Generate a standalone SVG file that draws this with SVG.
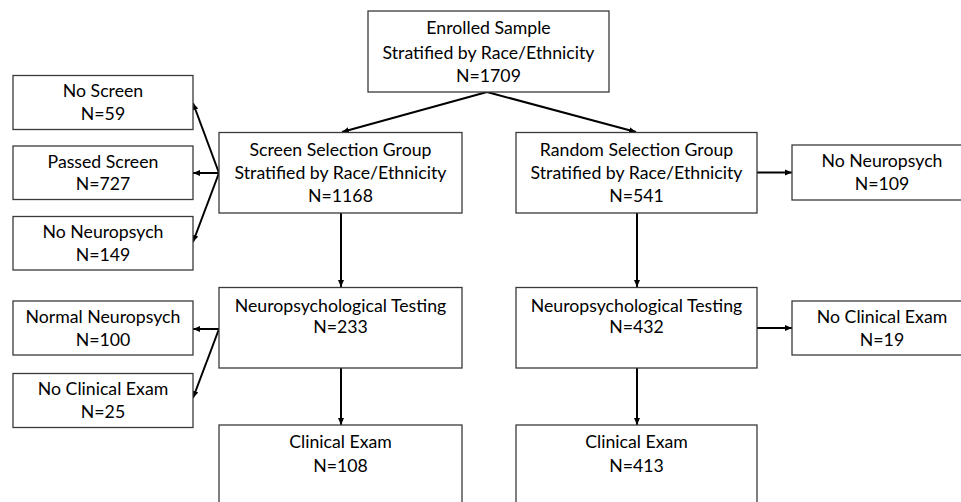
<svg xmlns="http://www.w3.org/2000/svg" width="961" height="502" viewBox="0 0 961 502">
<defs>
<style>
.box{fill:#fff;stroke:#3a3a3a;stroke-width:1.3}
.t{font-family:"Lato","Liberation Sans",sans-serif;font-size:17.7px;fill:#000;text-anchor:middle}
.c{stroke:#000;stroke-width:2;fill:none;marker-end:url(#ah)}
</style>
<marker id="ah" markerUnits="userSpaceOnUse" markerWidth="8" markerHeight="8" viewBox="0 0 8 8" refX="7" refY="4" orient="auto">
<path d="M0,1 L7,4 L0,7 Z" fill="#000"/>
</marker>
</defs>
<rect width="961" height="502" fill="#fff"/>
<g id="connectors">
<line class="c" x1="487" y1="92" x2="342" y2="132"/>
<line class="c" x1="487" y1="92" x2="636" y2="132"/>
<line class="c" x1="219" y1="173" x2="193" y2="103"/>
<line class="c" x1="219" y1="173" x2="193" y2="173"/>
<line class="c" x1="219" y1="173" x2="193" y2="242"/>
<line class="c" x1="757" y1="172.5" x2="792" y2="172.5"/>
<line class="c" x1="341" y1="213" x2="341" y2="287"/>
<line class="c" x1="637" y1="213" x2="637" y2="287"/>
<line class="c" x1="219" y1="329" x2="193" y2="329"/>
<line class="c" x1="219" y1="329" x2="193" y2="398"/>
<line class="c" x1="757" y1="328" x2="792" y2="328"/>
<line class="c" x1="341" y1="368" x2="341" y2="425"/>
<line class="c" x1="637" y1="368" x2="637" y2="425"/>
</g>
<g id="enrolled"><rect class="box" x="368" y="11" width="241" height="81"/>
<text class="t" x="488.5" y="34.3">Enrolled Sample</text>
<text class="t" x="488.5" y="59.3">Stratified by Race/Ethnicity</text>
<text class="t" x="488.5" y="81.5">N=1709</text></g>
<g id="screen"><rect class="box" x="219" y="132.5" width="243" height="80.5"/>
<text class="t" x="340.5" y="155.7">Screen Selection Group</text>
<text class="t" x="340.5" y="179.3">Stratified by Race/Ethnicity</text>
<text class="t" x="340.5" y="201.7">N=1168</text></g>
<g id="random"><rect class="box" x="516" y="132.5" width="241" height="80.5"/>
<text class="t" x="636.5" y="155.7">Random Selection Group</text>
<text class="t" x="636.5" y="179.3">Stratified by Race/Ethnicity</text>
<text class="t" x="636.5" y="201.7">N=541</text></g>
<g id="noscreen"><rect class="box" x="13" y="75.5" width="180" height="54"/>
<text class="t" x="103" y="97.3">No Screen</text>
<text class="t" x="103" y="120">N=59</text></g>
<g id="passed"><rect class="box" x="13" y="146" width="180" height="53.5"/>
<text class="t" x="103" y="167.7">Passed Screen</text>
<text class="t" x="103" y="190">N=727</text></g>
<g id="noneuro-left"><rect class="box" x="13" y="216.5" width="180" height="53.5"/>
<text class="t" x="103" y="238.3">No Neuropsych</text>
<text class="t" x="103" y="260.7">N=149</text></g>
<g id="noneuro-right"><rect class="box" x="792" y="145" width="180" height="55"/>
<text class="t" x="882" y="166.7">No Neuropsych</text>
<text class="t" x="882" y="190">N=109</text></g>
<g id="neuro-left"><rect class="box" x="219" y="287.5" width="243" height="80.5"/>
<text class="t" x="340.5" y="311.7">Neuropsychological Testing</text>
<text class="t" x="340.5" y="333.3">N=233</text></g>
<g id="neuro-right"><rect class="box" x="516" y="287.5" width="241" height="80.5"/>
<text class="t" x="636.5" y="311.7">Neuropsychological Testing</text>
<text class="t" x="636.5" y="333.3">N=432</text></g>
<g id="normal"><rect class="box" x="13" y="301" width="180" height="54"/>
<text class="t" x="103" y="323.3">Normal Neuropsych</text>
<text class="t" x="103" y="346">N=100</text></g>
<g id="noclin-left"><rect class="box" x="13" y="373.5" width="180" height="54"/>
<text class="t" x="103" y="395">No Clinical Exam</text>
<text class="t" x="103" y="418.3">N=25</text></g>
<g id="noclin-right"><rect class="box" x="792" y="301" width="180" height="54"/>
<text class="t" x="882" y="323.3">No Clinical Exam</text>
<text class="t" x="882" y="346">N=19</text></g>
<g id="clin-left"><rect class="box" x="219" y="425" width="243" height="90"/>
<text class="t" x="340.5" y="448.3">Clinical Exam</text>
<text class="t" x="340.5" y="471.7">N=108</text></g>
<g id="clin-right"><rect class="box" x="516" y="425" width="241" height="90"/>
<text class="t" x="636.5" y="448.3">Clinical Exam</text>
<text class="t" x="636.5" y="471.7">N=413</text></g>
</svg>
